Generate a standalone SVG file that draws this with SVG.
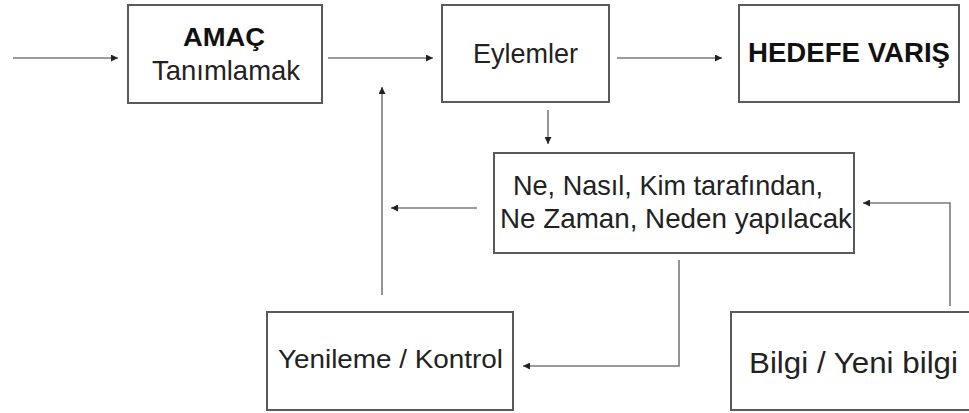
<svg xmlns="http://www.w3.org/2000/svg" width="969" height="413" viewBox="0 0 969 413">
  <style>
    .box { fill: #fff; stroke: #5a5a5a; stroke-width: 2; }
    .lbl { font-family: "Liberation Sans", Arial, sans-serif; fill: #222; text-anchor: middle; }
    .b { font-weight: bold; fill: #111; }
    .wire { fill: none; stroke: #7a7a7a; stroke-width: 1.6; marker-end: url(#head); }
  </style>
  <defs>
    <marker id="head" viewBox="0 0 10 10" refX="10" refY="5" markerWidth="9" markerHeight="7" markerUnits="userSpaceOnUse" orient="auto">
      <path d="M0,0 L10,5 L0,10 Z" fill="#222"/>
    </marker>
  </defs>
  <rect width="969" height="413" fill="#fff"/>

  <g id="connectors">
    <path class="wire" d="M13,58 H118"/>
    <path class="wire" d="M328,58 H433"/>
    <path class="wire" d="M617,58 H722"/>
    <path class="wire" d="M548,110 V144"/>
    <path class="wire" d="M477,208 H391"/>
    <path class="wire" d="M382,295 V87"/>
    <path class="wire" d="M679,260 V366 H523"/>
    <path class="wire" d="M950,306 V203 H863"/>
  </g>

  <g id="amac">
    <rect class="box" x="128" y="5" width="194" height="98"/>
    <text class="lbl b" x="224" y="46" font-size="25" textLength="82" lengthAdjust="spacingAndGlyphs">AMAÇ</text>
    <text class="lbl" x="226" y="80" font-size="28" textLength="148" lengthAdjust="spacingAndGlyphs">Tanımlamak</text>
  </g>

  <g id="eylemler">
    <rect class="box" x="442" y="5" width="167" height="97"/>
    <text class="lbl" x="525.5" y="63" font-size="28" textLength="105" lengthAdjust="spacingAndGlyphs">Eylemler</text>
  </g>

  <g id="hedefe-varis">
    <rect class="box" x="739" y="5" width="220" height="97"/>
    <text class="lbl b" x="849" y="62" font-size="27" textLength="202" lengthAdjust="spacingAndGlyphs">HEDEFE VARIŞ</text>
  </g>

  <g id="sorular">
    <rect class="box" x="494" y="153" width="360" height="100"/>
    <text class="lbl" x="668" y="195" font-size="28" textLength="310" lengthAdjust="spacingAndGlyphs">Ne, Nasıl, Kim tarafından,</text>
    <text class="lbl" x="676" y="228" font-size="28" textLength="352" lengthAdjust="spacingAndGlyphs">Ne Zaman, Neden yapılacak</text>
  </g>

  <g id="yenileme-kontrol">
    <rect class="box" x="267" y="312" width="246" height="98"/>
    <text class="lbl" x="390.5" y="368" font-size="26" textLength="225" lengthAdjust="spacingAndGlyphs">Yenileme / Kontrol</text>
  </g>

  <g id="bilgi">
    <rect class="box" x="731" y="312" width="250" height="98"/>
    <text class="lbl" x="853.5" y="373" font-size="30" textLength="209" lengthAdjust="spacingAndGlyphs">Bilgi / Yeni bilgi</text>
  </g>
</svg>
